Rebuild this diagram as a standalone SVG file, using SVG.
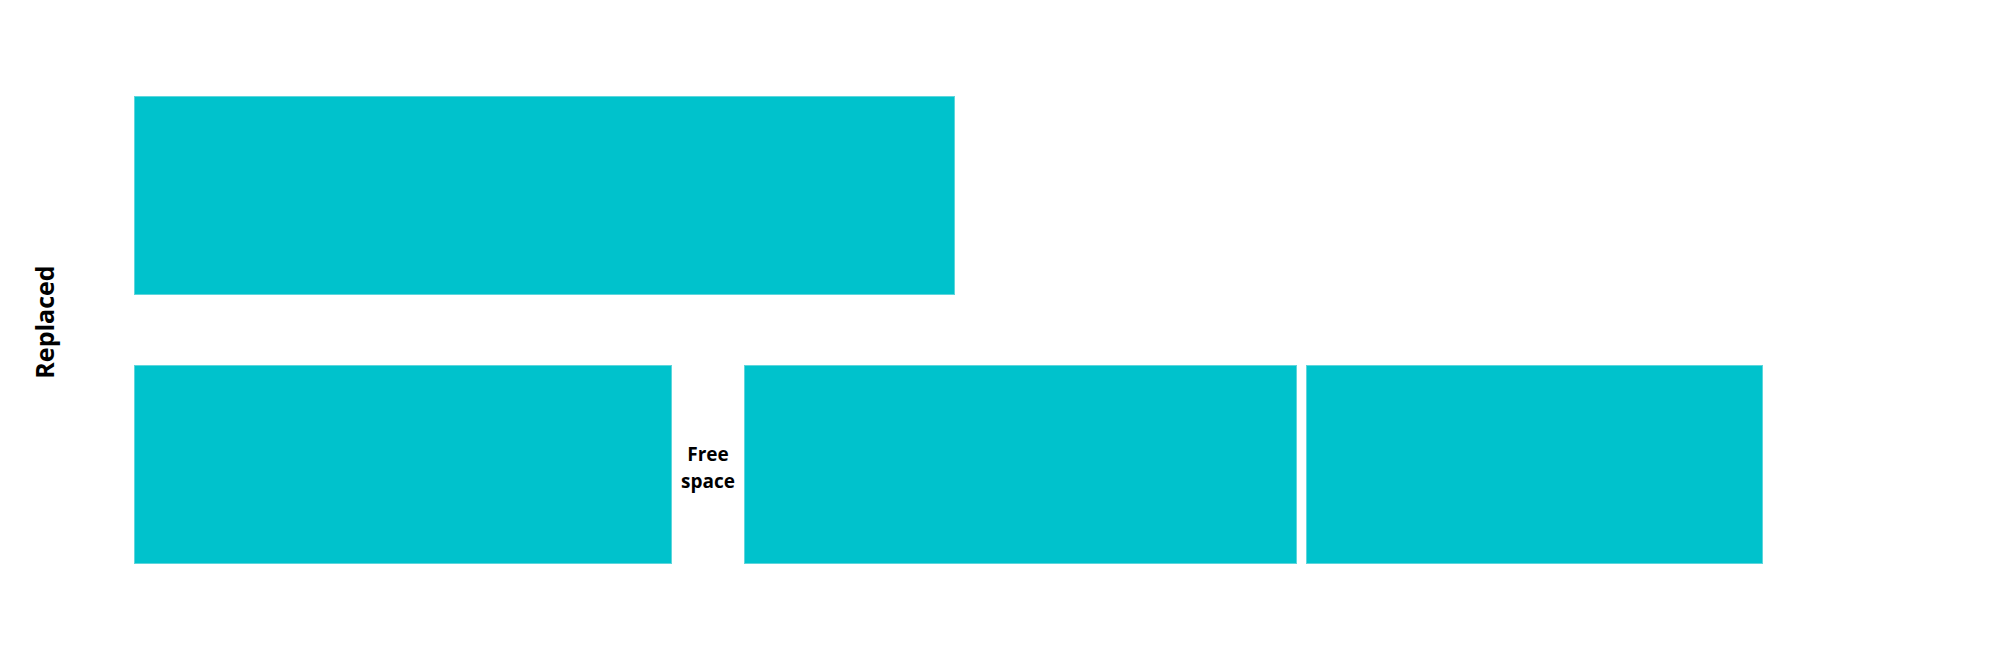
<svg xmlns="http://www.w3.org/2000/svg" width="2000" height="667" viewBox="0 0 2000 667">
<style>
.blk{fill:#00c2cc;stroke:#5ed6dc;stroke-width:1}
.lbl{font-family:"Open Sans","Liberation Sans",sans-serif;font-weight:700;fill:#000;text-anchor:middle}
</style>
<rect width="2000" height="667" fill="#fff"/>
<g id="block-top"><rect class="blk" x="134.5" y="96.5" width="820" height="198"/></g>
<g id="block-bottom-left"><rect class="blk" x="134.5" y="365.5" width="537" height="198"/></g>
<g id="block-bottom-middle"><rect class="blk" x="744.5" y="365.5" width="552" height="198"/></g>
<g id="block-bottom-right"><rect class="blk" x="1306.5" y="365.5" width="456" height="198"/></g>
<g id="label-free-space"><text class="lbl" font-size="19" x="708" y="461">Free</text><text class="lbl" font-size="19" x="708" y="488">space</text></g>
<g id="label-replaced"><text class="lbl" font-size="25" transform="translate(54,322) rotate(-90)">Replaced</text></g>
<g id="connectors"></g>
</svg>
